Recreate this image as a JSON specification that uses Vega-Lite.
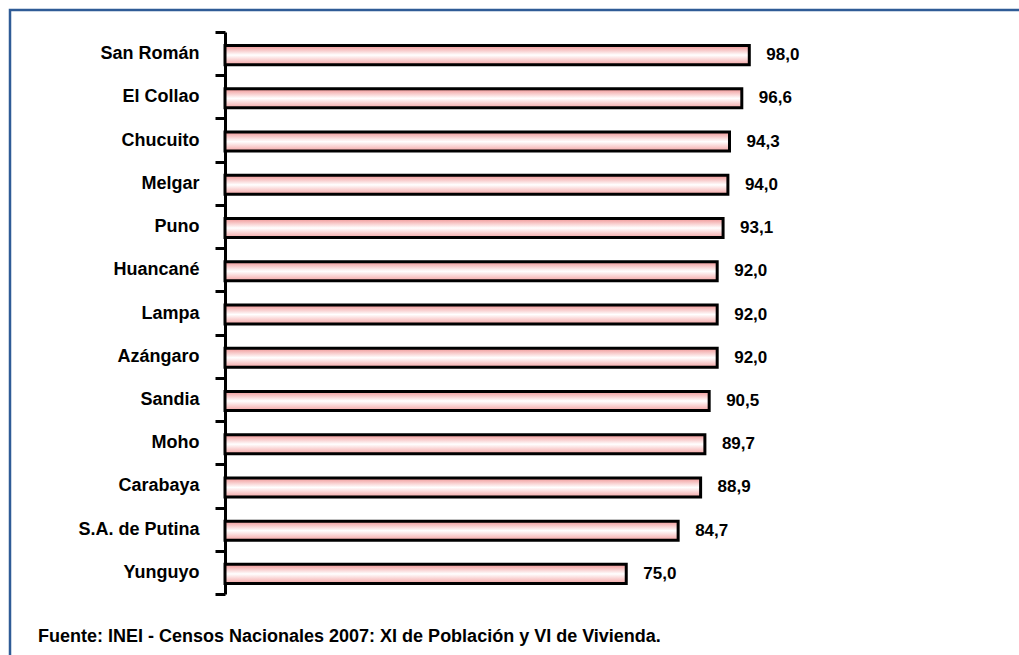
{
  "$schema": "https://vega.github.io/schema/vega-lite/v6.json",
  "width": 1020,
  "height": 660,
  "autosize": "none",
  "padding": {"left": 10, "top": 10, "right": 0, "bottom": 0},
  "background": "white",
  "config": {
    "view": {"stroke": "#2F5B96", "strokeWidth": 2.5},
    "font": "Liberation Sans"
  },
  "title": {
    "text": "Fuente: INEI - Censos Nacionales 2007: XI de Población y VI de Vivienda.",
    "orient": "bottom",
    "anchor": "start",
    "frame": "group",
    "offset": -42,
    "dx": 28,
    "fontSize": 18,
    "fontWeight": "bold",
    "font": "Liberation Sans",
    "color": "black"
  },
  "data": {
    "values": [
      {"provincia": "San Román", "valor": 98.0, "etiqueta": "98,0"},
      {"provincia": "El Collao", "valor": 96.6, "etiqueta": "96,6"},
      {"provincia": "Chucuito", "valor": 94.3, "etiqueta": "94,3"},
      {"provincia": "Melgar", "valor": 94.0, "etiqueta": "94,0"},
      {"provincia": "Puno", "valor": 93.1, "etiqueta": "93,1"},
      {"provincia": "Huancané", "valor": 92.0, "etiqueta": "92,0"},
      {"provincia": "Lampa", "valor": 92.0, "etiqueta": "92,0"},
      {"provincia": "Azángaro", "valor": 92.0, "etiqueta": "92,0"},
      {"provincia": "Sandia", "valor": 90.5, "etiqueta": "90,5"},
      {"provincia": "Moho", "valor": 89.7, "etiqueta": "89,7"},
      {"provincia": "Carabaya", "valor": 88.9, "etiqueta": "88,9"},
      {"provincia": "S.A. de Putina", "valor": 84.7, "etiqueta": "84,7"},
      {"provincia": "Yunguyo", "valor": 75.0, "etiqueta": "75,0"}
    ]
  },
  "encoding": {
    "y": {
      "field": "provincia",
      "type": "nominal",
      "sort": null,
      "scale": {"range": [22, 584], "paddingInner": 0, "paddingOuter": 0},
      "axis": {
        "orient": "left",
        "offset": -215,
        "title": null,
        "domainColor": "black",
        "domainWidth": 3,
        "tickColor": "black",
        "tickWidth": 3,
        "tickSize": 10,
        "tickBand": "extent",
        "labelFontSize": 18,
        "labelFontWeight": "bold",
        "labelColor": "black",
        "labelFont": "Liberation Sans",
        "labelPadding": 16
      }
    },
    "x": {
      "field": "valor",
      "type": "quantitative",
      "scale": {"domain": [-40.19, 150.47], "nice": false, "zero": false},
      "axis": null
    }
  },
  "layer": [
    {
      "mark": {
        "type": "bar",
        "height": {"band": 0.44},
        "yOffset": 1.5,
        "stroke": "black",
        "strokeWidth": 3,
        "fill": {
          "gradient": "linear",
          "x1": 0, "y1": 0, "x2": 0, "y2": 1,
          "stops": [
            {"offset": 0, "color": "#F09494"},
            {"offset": 0.5, "color": "#FFFFFF"},
            {"offset": 1, "color": "#F4A4A4"}
          ]
        }
      }
    },
    {
      "mark": {
        "type": "text",
        "align": "left",
        "baseline": "middle",
        "dx": 17,
        "dy": 1.5,
        "fontSize": 17,
        "fontWeight": "bold",
        "font": "Liberation Sans",
        "color": "black"
      },
      "encoding": {"text": {"field": "etiqueta"}}
    }
  ]
}
